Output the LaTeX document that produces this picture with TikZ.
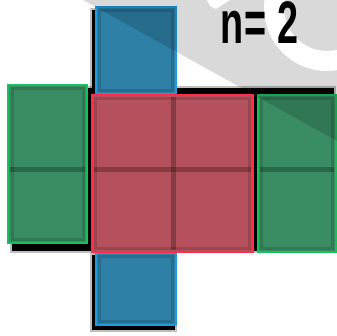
\documentclass[tikz,border=0pt]{standalone}
\usepackage{fontspec}
\setmainfont{Liberation Sans}
\begin{document}
\begin{tikzpicture}[x=1pt,y=-1pt,
  shadowbox/.style={fill=black},
  softshadow/.style={draw=black,draw opacity=0.25,line width=2pt},
  bluebox/.style={fill=bluefill,draw=blueline,line width=2.2pt},
  redbox/.style={fill=redfill,draw=redline,line width=2.2pt},
  greenbox/.style={fill=greenfill,draw=greenline,line width=2.2pt},
  innerband/.style={draw=black,draw opacity=0.14,line width=3pt},
  midline/.style={draw=black,draw opacity=0.25,line width=5pt},
  greyzone/.style={fill=black,fill opacity=0.15}]
\definecolor{bluefill}{HTML}{2E80A6}
\definecolor{blueline}{HTML}{1E9BE0}
\definecolor{redfill}{HTML}{B5515C}
\definecolor{redline}{HTML}{FF2D4A}
\definecolor{greenfill}{HTML}{3A8C63}
\definecolor{greenline}{HTML}{19C15D}
\useasboundingbox (0,0) rectangle (337,336);
\clip (0,0) rectangle (337,336);
\fill[white] (0,0) rectangle (337,336);
% shadows
\path[shadowbox] (12,88) rectangle (334,251);
\path[shadowbox] (92,10) rectangle (172,95);
\path[shadowbox] (92,255) rectangle (175,330);
\path[softshadow] (11,87) rectangle (335,252);
\path[softshadow] (91,9) rectangle (173,96);
\path[softshadow] (91,254) rectangle (176,331);
% faces
\path[bluebox] (96,7) rectangle (176,94);
\path[bluebox] (96,253) rectangle (176,325);
\path[greenbox] (8,85) rectangle (87,243);
\path[redbox] (92,95) rectangle (253,252);
\path[greenbox] (258,95) rectangle (336,252);
% inner dark bands
\path[innerband] (99.5,10.5) rectangle (172.5,90.5);
\path[innerband] (99.5,256.5) rectangle (172.5,321.5);
\path[innerband] (12.5,89) rectangle (83.5,239.5);
\path[innerband] (95.5,98.5) rectangle (249.5,248.5);
\path[innerband] (261.5,98.5) rectangle (332.5,248.5);
% middle grid lines
\draw[midline] (10,170) -- (85,170);
\draw[midline] (94,170) -- (251,170);
\draw[midline] (173,97) -- (173,250);
\draw[midline] (260,170) -- (334,170);
% grey zone
\path[greyzone] (83,0) -- (337,141) -- (337,0) -- cycle;
% white ring and blob
\draw[white,line width=20pt] (327,8) circle[radius=53pt];
\fill[white] (207,0) -- (230,0) -- (216,9) -- (210,6) -- cycle;
% label
\node[anchor=base west,inner sep=0pt,xscale=0.63] (label) at (220,44)
  {\fontsize{60}{60}\selectfont\bfseries n\kern2pt=\kern18pt2};
\end{tikzpicture}
\end{document}
